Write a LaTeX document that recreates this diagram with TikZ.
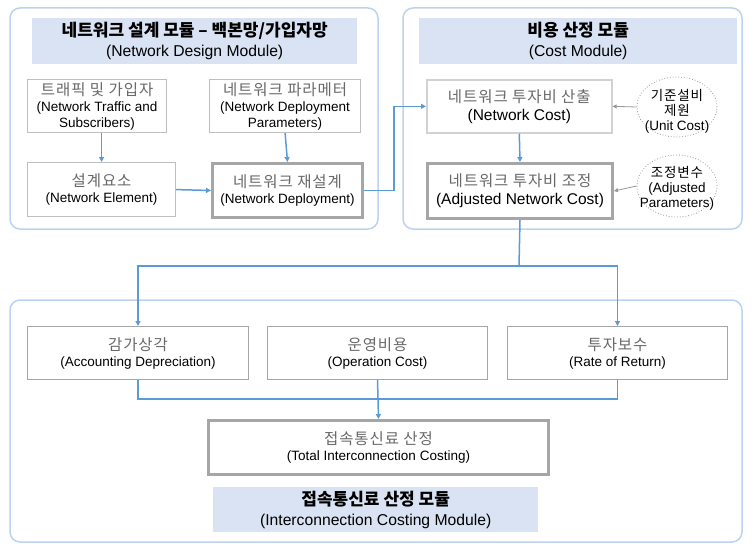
\documentclass[tikz,border=0pt]{standalone}
\usepackage{fontspec}
\setmainfont{Liberation Sans}
\newfontfamily\kr{Noto Sans CJK KR}
\newfontfamily\krw{Noto Sans CJK KR}[LetterSpace=6]
\usetikzlibrary{arrows.meta,calc,shapes.geometric}
\definecolor{connc}{RGB}{91,155,213}
\definecolor{framec}{RGB}{189,210,238}
\definecolor{bandc}{RGB}{218,227,243}
\definecolor{boxlinec}{RGB}{191,191,191}
\definecolor{lightlinec}{RGB}{210,210,210}
\definecolor{thickc}{RGB}{166,166,166}
\definecolor{krtextc}{RGB}{105,105,105}
\definecolor{ellc}{RGB}{150,150,150}
\newcommand\krbox[1]{{\krw\color{krtextc}\fontsize{15.5}{18}\selectfont #1}}
\newcommand\krbig[1]{{\krw\color{krtextc}\fontsize{15.5}{18}\selectfont #1}}
\newcommand\krtitle[1]{{\kr\bfseries\fontsize{17}{20}\selectfont #1}}
\newcommand\krell[1]{{\krw\fontsize{13.5}{15}\selectfont #1}}
\begin{document}
\begin{tikzpicture}[x=1pt,y=-1pt,
  container/.style={draw=framec, line width=1.5pt, rounded corners=10pt},
  bandbox/.style={fill=bandc, anchor=north west, inner sep=0pt, align=center,
    font=\fontsize{15.7}{20}\selectfont},
  boxn/.style={draw=boxlinec, line width=1.2pt, fill=white, anchor=north west,
    inner sep=0pt, align=center, font=\fontsize{13.5}{16}\selectfont},
  thickbox/.style={boxn, draw=thickc, line width=3pt},
  arr/.style={draw=connc, line width=1.5pt, -{Triangle[length=5pt,width=5pt]}},
  conline/.style={draw=connc, line width=1.5pt},
  garr/.style={draw=ellc, line width=0.8pt, -{Triangle[length=4pt,width=4pt]}},
  ellnode/.style={ellipse, draw=ellc, dotted, line width=0.8pt, minimum width=80pt,
    inner sep=0pt},
  elltext/.style={inner sep=0pt, align=center, font=\fontsize{13.5}{15}\selectfont}
]
\useasboundingbox (0,0) rectangle (754,551);

% containers
\draw[container] (10,8) rectangle (378,229);
\draw[container] (403,8) rectangle (742,229);
\draw[container] (10,300) rectangle (742,542);

% title bands
\node[bandbox, minimum width=325pt, minimum height=46pt] (t1) at (32,18)
  {\krtitle{네트워크 설계 모듈 – 백본망/가입자망}\\(Network Design Module)};
\node[bandbox, minimum width=318pt, minimum height=46pt] (t2) at (419,18)
  {\krtitle{비용 산정 모듈}\\(Cost Module)};
\node[bandbox, minimum width=325pt, minimum height=45pt] (t3) at (213,487)
  {\krtitle{접속통신료 산정 모듈}\\(Interconnection Costing Module)};

% design module
\node[boxn, minimum width=139pt, minimum height=53pt] (tr) at (27,79)
  {\krbox{트래픽 및 가입자}\\(Network Traffic and\\Subscribers)};
\node[boxn, minimum width=151pt, minimum height=53pt] (pa) at (209,79)
  {\krbox{네트워크 파라메터}\\(Network Deployment\\Parameters)};
\node[boxn, minimum width=148pt, minimum height=54pt] (el) at (27,162)
  {\krbox{설계요소}\\(Network Element)};
\node[thickbox, minimum width=150pt, minimum height=54pt] (dp) at (211,162)
  {\krbox{네트워크 재설계}\\(Network Deployment)};

% cost module
\node[boxn, draw=lightlinec, line width=1.6pt, minimum width=185pt, minimum height=53pt,
  font=\fontsize{15.5}{18}\selectfont] (nc) at (426,79)
  {\krbig{네트워크 투자비 산출}\\(Network Cost)};
\node[thickbox, minimum width=185pt, minimum height=55pt,
  font=\fontsize{15.5}{18}\selectfont] (ad) at (426,162)
  {\krbig{네트워크 투자비 조정}\\(Adjusted Network Cost)};
\node[ellnode, minimum height=60pt] (uc) at (677,107) {};
\node[elltext] (uct) at (677,111) {\krell{기준설비}\\\krell{제원}\\(Unit Cost)};
\node[ellnode, minimum height=62pt] (ap) at (677,186) {};
\node[elltext] (apt) at (677,188) {\krell{조정변수}\\(Adjusted\\Parameters)};

% interconnection module
\node[boxn, draw=thickc, line width=1pt, minimum width=221pt, minimum height=53pt] (dep) at (27,326)
  {\krbox{감가상각}\\(Accounting Depreciation)};
\node[boxn, draw=thickc, line width=1pt, minimum width=220pt, minimum height=53pt] (op) at (267,326)
  {\krbox{운영비용}\\(Operation Cost)};
\node[boxn, draw=thickc, line width=1pt, minimum width=220pt, minimum height=53pt] (rt) at (507,326)
  {\krbox{투자보수}\\(Rate of Return)};
\node[thickbox, minimum width=340pt, minimum height=54pt] (tot) at (207,419)
  {\krbox{접속통신료 산정}\\(Total Interconnection Costing)};

% connectors
\draw[arr] (tr.south -| el.north) -- (el.north);
\draw[arr] (pa.south) -- (dp.north);
\draw[arr] (el.east) -- (dp.west);
\draw[arr] (dp.east) -- ++(30,0) |- (nc.west);
\draw[arr] (nc.south) -- (ad.north);
\draw[garr] (uc.west) -- (nc.east);
\draw[garr] (ap.west) -- (ad.east);

\coordinate (sp) at (519,266);
\draw[conline] (ad.south) -- (sp);
\draw[arr] (sp) -| (dep.north);
\draw[arr] (sp) -| (rt.north);

\coordinate (mg) at (377,399);
\draw[conline] (dep.south) |- (mg) -| (rt.south);
\draw[arr] (op.south) -- (tot.north);
\end{tikzpicture}
\end{document}
